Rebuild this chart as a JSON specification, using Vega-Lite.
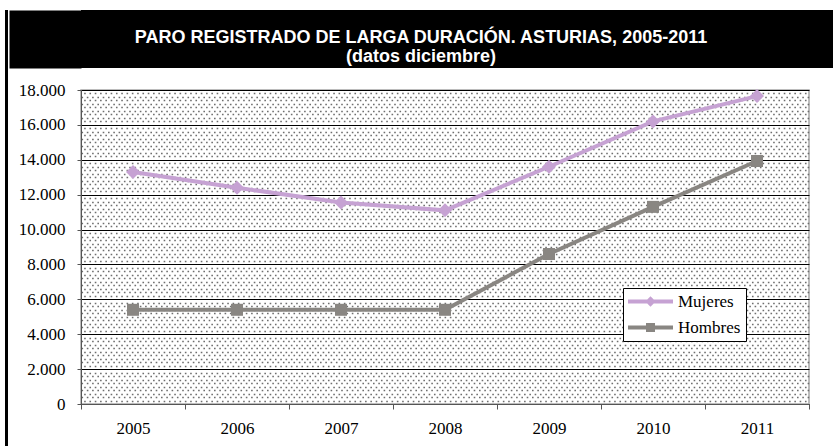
{
  "$schema": "https://vega.github.io/schema/vega-lite/v6.json",
  "background": "white",
  "padding": {"left": 5, "top": 10, "right": 0, "bottom": 0},
  "config": {
    "locale": {"number": {"decimal": ",", "thousands": ".", "grouping": [3], "currency": ["", " €"]}},
    "concat": {"spacing": 0}
  },
  "hconcat": [
    {
      "width": 3,
      "height": 436,
      "view": {"fill": "black", "stroke": null},
      "data": {"values": [{"k": 1}]},
      "mark": {"type": "rect", "color": "black"},
      "encoding": {}
    },
    {
      "vconcat": [
        {
          "width": 753,
          "height": 58,
          "view": {"fill": "black", "stroke": null},
          "data": {"values": [{"t": "PARO REGISTRADO DE LARGA DURACIÓN. ASTURIAS, 2005-2011\n(datos diciembre)"}]},
          "mark": {"type": "text", "lineBreak": "\n", "color": "white", "font": "Liberation Sans", "fontWeight": "bold", "fontSize": 18, "lineHeight": 19, "baseline": "middle", "align": "center", "dy": -1.5, "dx": -36.5},
          "encoding": {
            "text": {"field": "t", "type": "nominal"},
            "y": {"field": "t", "type": "nominal", "axis": {"title": null, "labels": false, "ticks": false, "grid": false, "domain": true, "domainColor": "black", "domainWidth": 72, "domainCap": "butt", "offset": 36, "minExtent": 0}}
          }
        },
        {
          "width": 728,
          "height": 314,
          "view": {"fill": "white", "stroke": "#a6a6a6", "strokeWidth": 1.5},
          "data": {"values": [
            {"year": "2005", "serie": "Mujeres", "parados": 13300},
            {"year": "2006", "serie": "Mujeres", "parados": 12400},
            {"year": "2007", "serie": "Mujeres", "parados": 11550},
            {"year": "2008", "serie": "Mujeres", "parados": 11100},
            {"year": "2009", "serie": "Mujeres", "parados": 13600},
            {"year": "2010", "serie": "Mujeres", "parados": 16200},
            {"year": "2011", "serie": "Mujeres", "parados": 17650},
            {"year": "2005", "serie": "Hombres", "parados": 5400},
            {"year": "2006", "serie": "Hombres", "parados": 5400},
            {"year": "2007", "serie": "Hombres", "parados": 5400},
            {"year": "2008", "serie": "Hombres", "parados": 5400},
            {"year": "2009", "serie": "Hombres", "parados": 8600},
            {"year": "2010", "serie": "Hombres", "parados": 11300},
            {"year": "2011", "serie": "Hombres", "parados": 13930}
          ]},
          "layer": [
            {
              "mark": {"type": "line", "strokeWidth": 4},
              "encoding": {
                "x": {"field": "year", "type": "ordinal", "scale": {"type": "band", "paddingInner": 0, "paddingOuter": 0},
                  "axis": {"title": null, "tickBand": "extent", "labelAngle": 0, "domainColor": "#555555", "tickColor": "#555555", "tickSize": 5, "labelFont": "Liberation Serif", "labelFontSize": 17, "labelColor": "black", "labelPadding": 11, "grid": false}},
                "y": {"field": "parados", "type": "quantitative", "scale": {"domain": [0, 18000], "nice": false},
                  "axis": {"title": null, "values": [0, 2000, 4000, 6000, 8000, 10000, 12000, 14000, 16000, 18000], "format": ",d", "grid": true, "gridColor": "black", "gridWidth": 1, "domainColor": "#555555", "tickColor": "#555555", "tickSize": 4, "labelPadding": 12, "labelFont": "Liberation Serif", "labelFontSize": 17, "labelColor": "black", "minExtent": 72}},
                "color": {"field": "serie", "type": "nominal",
                  "scale": {"domain": ["Mujeres", "Hombres"], "range": ["#C6A2D3", "#898682"]},
                  "legend": {"orient": "none", "legendX": 618, "legendY": 278, "title": null, "fillColor": "white", "strokeColor": "black", "padding": 5, "symbolSize": 100, "symbolStrokeWidth": 0, "symbolOffset": 14, "labelOffset": 19, "labelFont": "Liberation Serif", "labelFontSize": 17, "labelColor": "black", "rowPadding": 8, "labelLimit": 200,
                    "encode": {"symbols": {"update": {
                      "shape": {"signal": "datum.value === 'Mujeres' ? 'M-4.5,-0.4L4.5,-0.4L4.5,0.4L-4.5,0.4Z M0,-1.05L1.05,0L0,1.05L-1.05,0Z' : 'M-4.5,-0.38L4.5,-0.38L4.5,0.38L-4.5,0.38Z M-0.9,-0.9L0.9,-0.9L0.9,0.9L-0.9,0.9Z'"},
                      "fill": {"signal": "scale('color', datum.value)"},
                      "stroke": {"value": "transparent"},
                      "strokeWidth": {"value": 0},
                      "opacity": {"value": 1},
                      "size": {"value": 100}
                    }}}}
                }
              }
            },
            {
              "transform": [{"filter": "datum.serie === 'Mujeres'"}],
              "mark": {"type": "point", "filled": true, "opacity": 1, "shape": "diamond", "size": 196},
              "encoding": {
                "x": {"field": "year", "type": "ordinal"},
                "y": {"field": "parados", "type": "quantitative",
                  "axis": {"orient": "left", "title": null, "labels": false, "ticks": false, "domain": false, "grid": true, "tickCount": 90, "gridColor": "#6e6e6e", "gridWidth": 1.6, "gridDash": [1.6, 3.7],
                    "gridDashOffset": {"condition": {"test": "datum.value % 400 == 0", "value": 0}, "value": 2.65},
                    "gridOpacity": {"condition": {"test": "datum.value % 2000 == 0", "value": 0}, "value": 1}}},
                "color": {"field": "serie", "type": "nominal", "legend": null}
              }
            },
            {
              "transform": [{"filter": "datum.serie === 'Hombres'"}],
              "mark": {"type": "point", "filled": true, "opacity": 1, "shape": "square", "size": 144},
              "encoding": {
                "x": {"field": "year", "type": "ordinal"},
                "y": {"field": "parados", "type": "quantitative", "axis": null},
                "color": {"field": "serie", "type": "nominal", "legend": null}
              }
            }
          ],
          "resolve": {"axis": {"y": "independent"}}
        }
      ],
      "spacing": 12
    }
  ]
}
